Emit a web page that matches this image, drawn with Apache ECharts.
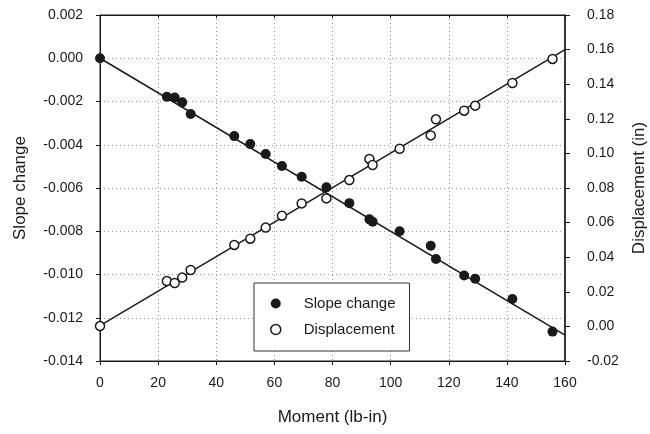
<!DOCTYPE html>
<html>
<head>
<meta charset="utf-8">
<script src="https://cdn.jsdelivr.net/npm/echarts@6/dist/echarts.min.js"></script>
<style>
  html, body { margin: 0; padding: 0; background: #fff; }
  #chart { width: 650px; height: 434px; }
</style>
</head>
<body>
<div id="chart"></div>
<script>
// Applied moment (lb-in) for each load step
const moment = [0, 23, 25.7, 28.3, 31.2, 46.2, 51.7, 57, 62.6, 69.4, 77.9, 85.8,
  92.7, 93.8, 103.1, 113.8, 115.6, 125.3, 129.1, 141.9, 155.7];

// Measured slope change at each step
const slopeChange = [0, -0.00178, -0.00182, -0.00204, -0.00258, -0.0036, -0.00397,
  -0.00443, -0.00498, -0.00548, -0.00597, -0.0067, -0.00745, -0.00756, -0.0080,
  -0.00867, -0.00928, -0.01005, -0.0102, -0.01113, -0.01264];

// Measured displacement (in) at each step
const displacement = [0.0002, 0.0262, 0.0251, 0.0282, 0.0326, 0.0471, 0.0507,
  0.0571, 0.064, 0.0711, 0.074, 0.0846, 0.0968, 0.0933, 0.1027, 0.1104, 0.1197,
  0.1247, 0.1276, 0.1407, 0.1546];

// Linear fits, given by their end values at moment 0 and 160
const fitMoment = [0, 160];
const slopeFit = [0, -0.0128];
const dispFit = [0.0005, 0.16];

// Axis ranges
const xRange = [0, 160, 20];
const leftRange = [-0.014, 0.002, 0.002];
const rightRange = [-0.02, 0.18, 0.02];

const pair = (xs, ys) => xs.map((x, i) => [x, ys[i]]);
const fmt = (d) => (v) => (Math.abs(v) < 1e-9 ? 0 : v).toFixed(d);

const ink = '#1a1a1a';
const font = 'Liberation Sans, Arial, sans-serif';
const dotted = { color: '#9a9a9a', type: [1, 3], width: 1 };

const chart = echarts.init(document.getElementById('chart'), null, { renderer: 'canvas' });
chart.setOption({
  animation: false,
  backgroundColor: '#fff',
  textStyle: { fontFamily: font, color: ink },
  grid: { left: 100, right: 85, top: 15, bottom: 73, show: true,
          outerBoundsMode: 'none', containLabel: false,
          borderColor: ink, borderWidth: 1, backgroundColor: 'transparent' },
  xAxis: [{
    type: 'value', min: xRange[0], max: xRange[1], interval: xRange[2],
    name: 'Moment (lb-in)', nameLocation: 'middle', nameGap: 48,
    nameTextStyle: { fontSize: 17, color: ink, fontFamily: font },
    axisLine: { onZero: false, lineStyle: { color: ink, width: 1 } },
    axisTick: { inside: false, length: 4, lineStyle: { color: ink } },
    axisLabel: { fontSize: 14, color: ink, margin: 15, fontFamily: font },
    splitLine: { show: true, lineStyle: dotted }
  }, {
    type: 'value', position: 'top', min: xRange[0], max: xRange[1], interval: xRange[2],
    axisLine: { show: true, onZero: false, lineStyle: { color: ink, width: 1 } },
    axisTick: { inside: true, length: 3, lineStyle: { color: ink } },
    axisLabel: { show: false }, splitLine: { show: false }
  }],
  yAxis: [{
    type: 'value', position: 'left', min: leftRange[0], max: leftRange[1], interval: leftRange[2],
    name: 'Slope change', nameLocation: 'middle', nameGap: 71,
    nameTextStyle: { fontSize: 17, color: ink, fontFamily: font },
    axisLine: { show: true, onZero: false, lineStyle: { color: ink, width: 1 } },
    axisTick: { show: true, inside: false, length: 4, lineStyle: { color: ink } },
    axisLabel: { fontSize: 14, color: ink, margin: 17, formatter: fmt(3), fontFamily: font },
    splitLine: { show: true, lineStyle: dotted }
  }, {
    type: 'value', position: 'right', min: rightRange[0], max: rightRange[1], interval: rightRange[2],
    name: 'Displacement (in)', nameLocation: 'middle', nameGap: 66, nameRotate: 90,
    nameTextStyle: { fontSize: 17, color: ink, fontFamily: font },
    axisLine: { show: true, onZero: false, lineStyle: { color: ink, width: 1.5 } },
    axisTick: { show: true, inside: false, length: 5, lineStyle: { color: ink } },
    axisLabel: { fontSize: 14, color: ink, margin: 22, formatter: fmt(2), fontFamily: font },
    splitLine: { show: false }
  }],
  legend: {
    orient: 'vertical', left: 254, top: 283,
    padding: [13, 14, 14, 16], itemGap: 11,
    itemWidth: 10, itemHeight: 10,
    backgroundColor: '#fff', borderColor: '#333', borderWidth: 1,
    textStyle: { fontSize: 15, color: ink, fontFamily: font, padding: [0, 0, 0, 18] },
    data: [
      { name: 'Slope change', icon: 'circle', itemStyle: { color: ink, borderWidth: 0 } },
      { name: 'Displacement', icon: 'circle', itemStyle: { color: '#fff', borderColor: ink, borderWidth: 1.5 } }
    ]
  },
  series: [
    {
      name: 'Slope change fit', type: 'line', xAxisIndex: 0, yAxisIndex: 0,
      data: pair(fitMoment, slopeFit), showSymbol: false, silent: true,
      lineStyle: { color: ink, width: 1.5 }, z: 2
    },
    {
      name: 'Displacement fit', type: 'line', xAxisIndex: 0, yAxisIndex: 1,
      data: pair(fitMoment, dispFit), showSymbol: false, silent: true,
      lineStyle: { color: ink, width: 1.5 }, z: 2
    },
    {
      name: 'Slope change', type: 'scatter', xAxisIndex: 0, yAxisIndex: 0,
      data: pair(moment, slopeChange), symbol: 'circle', symbolSize: 10,
      itemStyle: { color: ink, opacity: 1 }, z: 3
    },
    {
      name: 'Displacement', type: 'scatter', xAxisIndex: 0, yAxisIndex: 1,
      data: pair(moment, displacement), symbol: 'circle', symbolSize: 9,
      itemStyle: { color: '#fff', borderColor: ink, borderWidth: 1.5, opacity: 1 }, z: 3
    }
  ]
});
</script>
</body>
</html>
